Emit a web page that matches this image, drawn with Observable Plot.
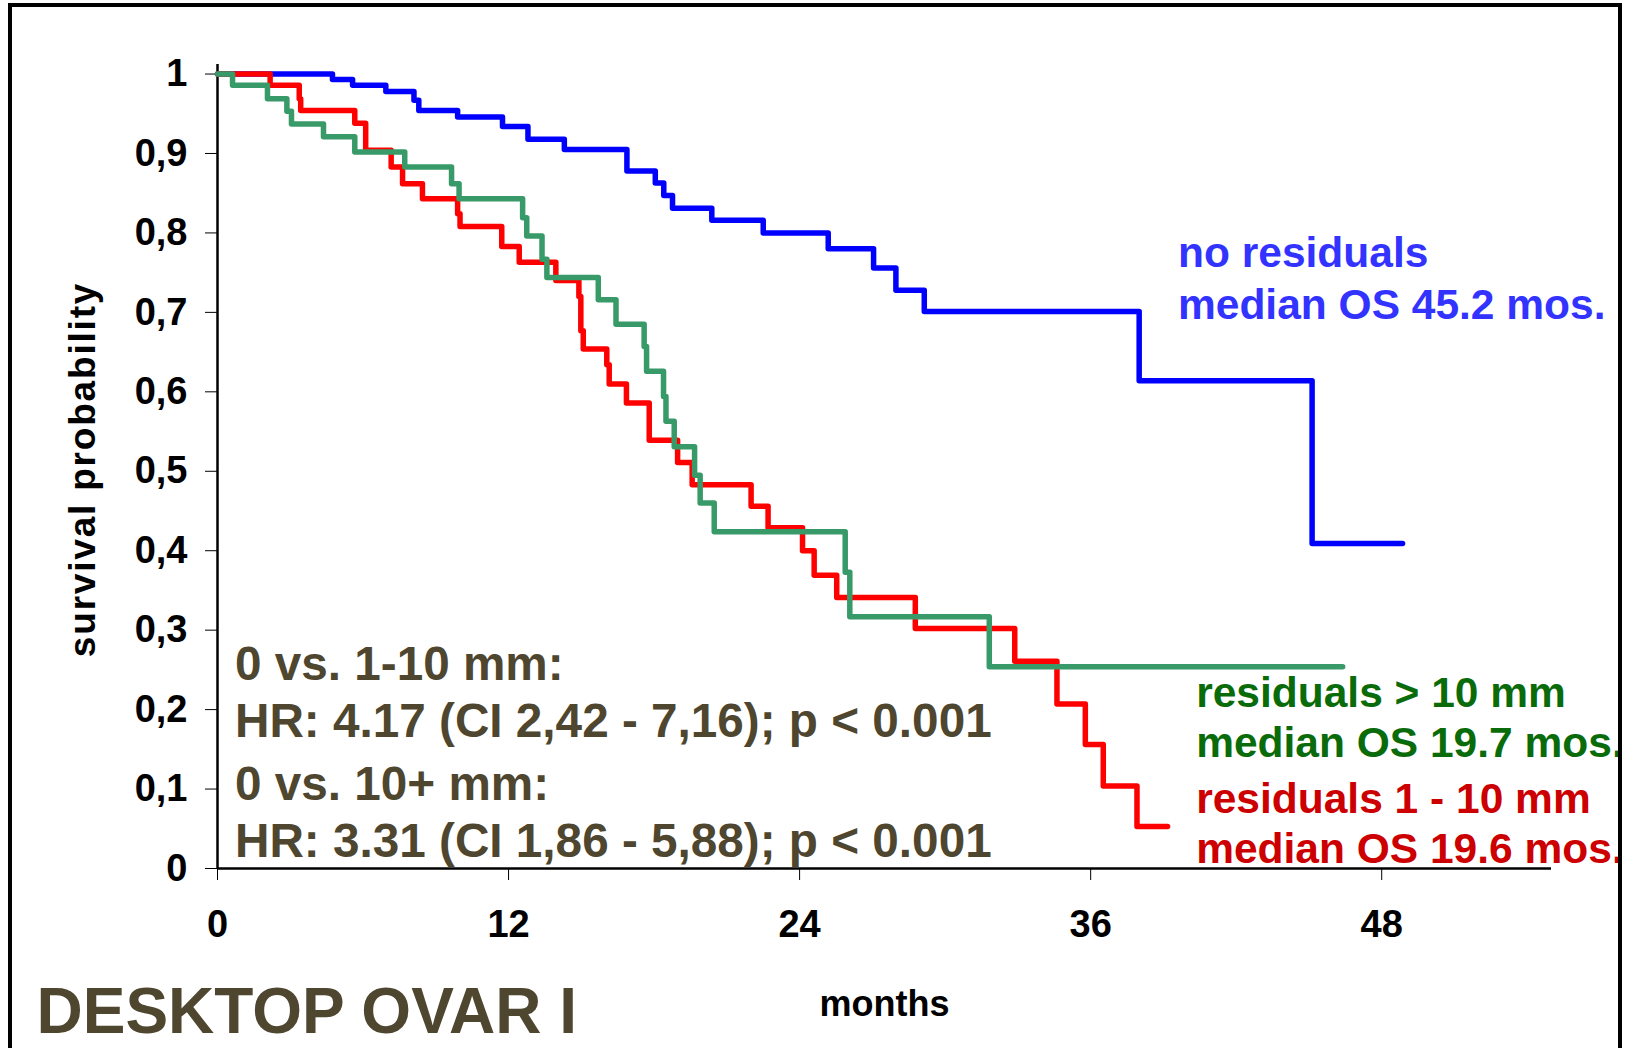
<!DOCTYPE html>
<html>
<head>
<meta charset="utf-8">
<script src="https://cdn.jsdelivr.net/npm/d3@7"></script>
<script src="https://cdn.jsdelivr.net/npm/@observablehq/plot@0.6"></script>
<style>
  html, body { margin: 0; padding: 0; background: #fff; overflow: hidden; width: 1634px; height: 1048px; }
  #frame { position: absolute; left: 8px; top: 3px; width: 1614px; height: 1200px; border: 4px solid #000; box-sizing: border-box; pointer-events: none; }
  #chart { position: absolute; left: 0; top: 0; }
</style>
</head>
<body>
<div id="chart"></div>
<div id="frame"></div>
<script>
// ---- data ----
const xTicks = [0, 12, 24, 36, 48];
const yTicks = [0, 0.1, 0.2, 0.3, 0.4, 0.5, 0.6, 0.7, 0.8, 0.9, 1];

const blueMonths = [0, 4.74, 5.57, 6.94, 8.1, 8.3, 9.9, 11.75, 12.8, 14.3, 16.88, 18.05, 18.4, 18.76, 20.38, 22.5, 25.18, 27.05, 27.97, 29.14, 38.0, 45.13, 48.86];
const blueSurv   = [1, 0.993, 0.986, 0.978, 0.967, 0.954, 0.946, 0.934, 0.918, 0.905, 0.878, 0.863, 0.847, 0.831, 0.816, 0.800, 0.780, 0.756, 0.728, 0.701, 0.614, 0.409, 0.409];

const redMonths = [0, 2.17, 3.37, 3.43, 5.66, 6.11, 7.16, 7.63, 8.45, 9.9, 10.0, 11.72, 12.44, 13.95, 14.9, 14.98, 15.08, 16.05, 16.15, 16.86, 17.8, 18.97, 19.57, 22.0, 22.7, 24.12, 24.6, 25.53, 28.77, 32.87, 34.61, 35.78, 36.52, 37.91, 39.17];
const redSurv   = [1, 0.986, 0.969, 0.954, 0.938, 0.904, 0.883, 0.862, 0.843, 0.824, 0.808, 0.783, 0.763, 0.740, 0.720, 0.677, 0.654, 0.634, 0.610, 0.586, 0.539, 0.511, 0.483, 0.456, 0.429, 0.400, 0.369, 0.341, 0.302, 0.261, 0.207, 0.156, 0.104, 0.053, 0.053];

const greenMonths = [0, 0.62, 2.06, 2.86, 3.05, 4.37, 5.66, 7.72, 9.65, 9.96, 12.58, 12.75, 13.38, 13.58, 15.70, 16.43, 17.59, 17.69, 18.39, 18.49, 18.83, 19.67, 19.9, 20.48, 25.88, 26.07, 31.82, 46.39];
const greenSurv   = [1, 0.986, 0.969, 0.953, 0.937, 0.921, 0.902, 0.883, 0.862, 0.843, 0.819, 0.796, 0.767, 0.744, 0.716, 0.685, 0.657, 0.626, 0.594, 0.563, 0.531, 0.495, 0.460, 0.424, 0.373, 0.317, 0.254, 0.254];

const seriesNames = ["no residuals", "residuals 1 - 10 mm", "residuals > 10 mm"];
const blueLabel  = ["no residuals", "median OS 45.2 mos."];
const greenLabel = ["residuals > 10 mm", "median OS 19.7 mos."];
const redLabel   = ["residuals 1 - 10 mm", "median OS 19.6 mos."];
const stats1 = ["0 vs. 1-10 mm:", "HR: 4.17 (CI 2,42 - 7,16); p < 0.001"];
const stats2 = ["0 vs. 10+ mm:", "HR: 3.31 (CI 1,86 - 5,88); p < 0.001"];
const xTitle = "months";
const yTitle = "survival probability";
const caption = "DESKTOP OVAR I";

// ---- build table ----
const toRows = (name, ms, ss) => ms.map((m, i) => ({series: name, month: m, surv: ss[i]}));
const blueRows = toRows(seriesNames[0], blueMonths, blueSurv);
const redRows = toRows(seriesNames[1], redMonths, redSurv);
const greenRows = toRows(seriesNames[2], greenMonths, greenSurv);

const FONT = "'Liberation Sans', Arial, Helvetica, sans-serif";
const fmtY = d => d === 0 ? "0" : d === 1 ? "1" : d.toFixed(1).replace(".", ",");

const chart = Plot.plot({
  width: 1634,
  height: 1048,
  marginLeft: 217,
  marginRight: 83,
  marginTop: 64,
  marginBottom: 180,
  style: {fontFamily: FONT, fontWeight: "bold", fontSize: "38px", color: "#000", background: "transparent", overflow: "visible"},
  x: {domain: [0, 55], ticks: xTicks, tickSize: 12, tickPadding: 30, tickFormat: d => String(d), label: null},
  y: {domain: [0, 1.012], ticks: yTicks, tickSize: 12, tickPadding: 18, tickFormat: fmtY, label: null},
  marks: [
    Plot.ruleX([0], {stroke: "#000", strokeWidth: 2.5}),
    Plot.ruleY([0], {stroke: "#000", strokeWidth: 2.5}),
    Plot.line(blueRows, {x: "month", y: "surv", stroke: "#0000ff", strokeWidth: 5.5, curve: "step-after"}),
    Plot.line(redRows, {x: "month", y: "surv", stroke: "#ff0000", strokeWidth: 5.5, curve: "step-after"}),
    Plot.line(greenRows, {x: "month", y: "surv", stroke: "#389a68", strokeWidth: 5.5, curve: "step-after"}),
    Plot.text([blueLabel.join("\n")], {x: 39.6, y: 0.745, text: d => d, textAnchor: "start", lineAnchor: "middle", lineHeight: 1.21, fill: "#3333ff", fontSize: 42.5, fontWeight: "bold", fontFamily: FONT}),
    Plot.text([greenLabel.join("\n")], {x: 40.35, y: 0.192, text: d => d, textAnchor: "start", lineAnchor: "middle", lineHeight: 1.17, fill: "#0a6b0a", fontSize: 42.5, fontWeight: "bold", fontFamily: FONT}),
    Plot.text([redLabel.join("\n")], {x: 40.35, y: 0.0585, text: d => d, textAnchor: "start", lineAnchor: "middle", lineHeight: 1.17, fill: "#cc0000", fontSize: 42.5, fontWeight: "bold", fontFamily: FONT}),
    Plot.text([stats1.join("\n")], {x: 0.72, y: 0.2245, text: d => d, textAnchor: "start", lineAnchor: "middle", lineHeight: 1.2, fill: "#4f4630", fontSize: 47.7, fontWeight: "bold", fontFamily: FONT}),
    Plot.text([stats2.join("\n")], {x: 0.72, y: 0.0735, text: d => d, textAnchor: "start", lineAnchor: "middle", lineHeight: 1.2, fill: "#4f4630", fontSize: 47.7, fontWeight: "bold", fontFamily: FONT}),
    Plot.text([yTitle], {frameAnchor: "left", dx: -134, dy: 3, rotate: -90, textAnchor: "middle", lineAnchor: "middle", fill: "#000", fontSize: 37, fontWeight: "bold", fontFamily: FONT, style: "letter-spacing:1.8px"}),
    Plot.text([xTitle], {frameAnchor: "bottom", dy: 136, textAnchor: "middle", lineAnchor: "middle", fill: "#000", fontSize: 36, fontWeight: "bold", fontFamily: FONT}),
    Plot.text([caption], {frameAnchor: "bottom-left", dx: -181, dy: 144, textAnchor: "start", lineAnchor: "middle", fill: "#4f4630", fontSize: 64, fontWeight: "bold", fontFamily: FONT})
  ]
});
// apply letter-spacing to the rotated y title
d3.select(chart).selectAll("text").filter(function() { return this.textContent === yTitle; }).style("letter-spacing", "1.8px");
document.getElementById("chart").appendChild(chart);
</script>
</body>
</html>
